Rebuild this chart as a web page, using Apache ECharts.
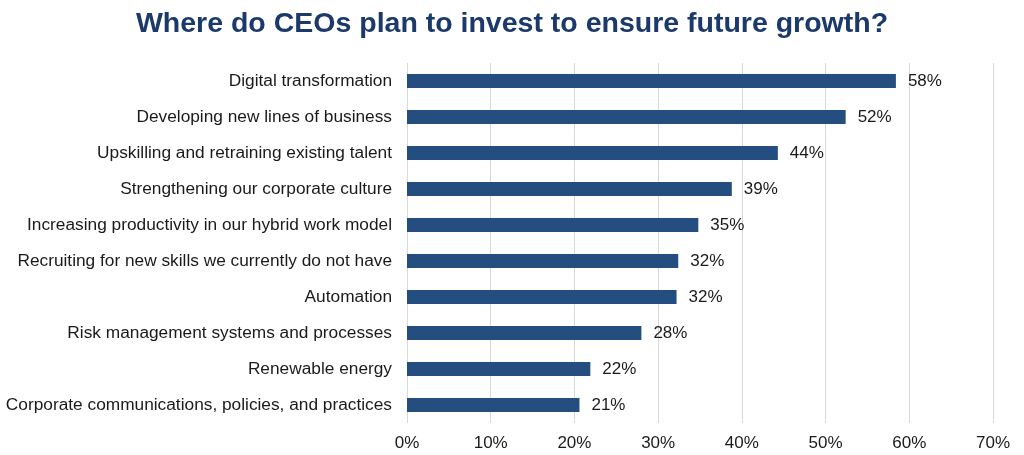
<!DOCTYPE html>
<html>
<head>
<meta charset="utf-8">
<script src="https://cdn.jsdelivr.net/npm/echarts@6/dist/echarts.min.js"></script>
<style>html,body{margin:0;padding:0;background:#fff}#c{width:1024px;height:455px}</style>
</head>
<body>
<div id="c"></div>
<script>
const categories = [
  "Digital transformation",
  "Developing new lines of business",
  "Upskilling and retraining existing talent",
  "Strengthening our corporate culture",
  "Increasing productivity in our hybrid work model",
  "Recruiting for new skills we currently do not have",
  "Automation",
  "Risk management systems and processes",
  "Renewable energy",
  "Corporate communications, policies, and practices"
];
const values = [58.4, 52.4, 44.3, 38.8, 34.8, 32.4, 32.2, 28.0, 21.9, 20.6];
const xTicks = [0, 10, 20, 30, 40, 50, 60, 70];

const chart = echarts.init(document.getElementById('c'));
chart.setOption({
  animation: false,
  title: {
    text: "Where do CEOs plan to invest to ensure future growth?",
    left: 'center', top: 5,
    textStyle: {fontFamily: 'Liberation Sans, Arial', fontWeight: 'bold', fontSize: 28.5, color: '#1b3a6b'}
  },
  grid: {left: 407, right: 31, top: 63, bottom: 32, containLabel: false},
  xAxis: {
    type: 'value', min: xTicks[0], max: xTicks[xTicks.length-1], interval: 10,
    axisLine: {show: false}, axisTick: {show: false},
    splitLine: {show: true, lineStyle: {color: '#d9d9d9', width: 1}},
    axisLabel: {formatter: v => v + '%', fontFamily: 'Liberation Sans, Arial', fontSize: 17, color: '#1a1a1a', margin: 12}
  },
  yAxis: {
    type: 'category', data: categories, inverse: true,
    axisLine: {show: false}, axisTick: {show: false},
    axisLabel: {fontFamily: 'Liberation Sans, Arial', fontSize: 17.3, color: '#1a1a1a', margin: 15}
  },
  series: [{
    type: 'bar', data: values, barWidth: 14,
    itemStyle: {color: '#244d80'},
    label: {show: true, position: 'right', distance: 12, formatter: p => Math.round(p.value) + '%',
      fontFamily: 'Liberation Sans, Arial', fontSize: 17, color: '#1a1a1a'}
  }]
});
</script>
</body>
</html>
